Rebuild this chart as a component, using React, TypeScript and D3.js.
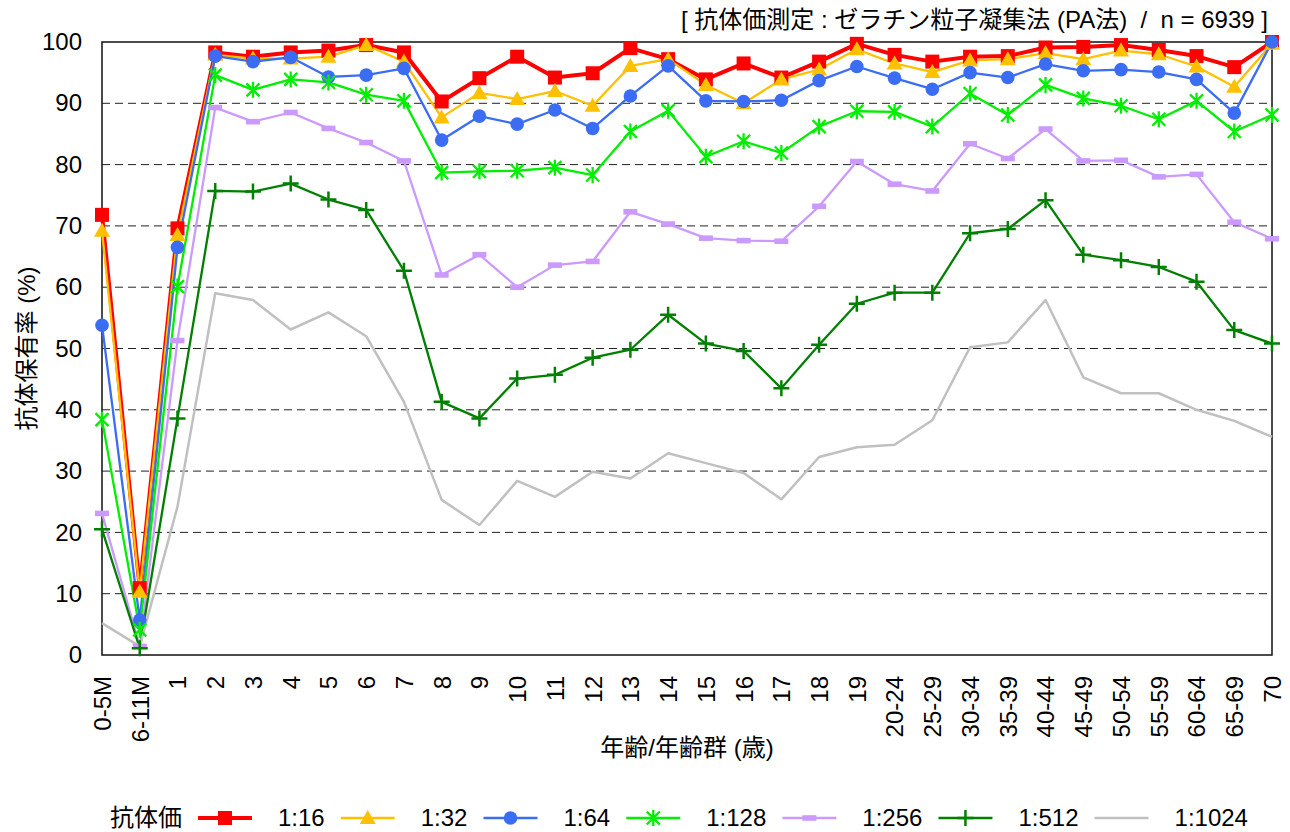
import * as d3 from "d3";
import { useEffect, useRef } from "react";

const ageGroups = [
  "0-5M", "6-11M", "1", "2", "3", "4", "5", "6", "7", "8", "9", "10", "11",
  "12", "13", "14", "15", "16", "17", "18", "19", "20-24", "25-29", "30-34",
  "35-39", "40-44", "45-49", "50-54", "55-59", "60-64", "65-69", "70",
];

const titers = ["1:16", "1:32", "1:64", "1:128", "1:256", "1:512", "1:1024"];

const t16 = [71.8, 10.9, 69.6, 98.3, 97.6, 98.3, 98.6, 99.5, 98.3, 90.3, 94.1, 97.6, 94.2, 94.9, 99.0, 97.2, 93.9, 96.5, 94.2, 96.8, 99.7, 97.9, 96.8, 97.6, 97.7, 99.1, 99.2, 99.5, 98.7, 97.7, 95.9, 100];
const t32 = [69.2, 10.3, 68.5, 97.9, 97.3, 97.3, 97.6, 99.5, 96.8, 87.7, 91.7, 90.7, 92.0, 89.6, 96.1, 97.2, 93.0, 90.0, 93.9, 95.5, 98.8, 96.5, 95.1, 97.0, 97.2, 98.2, 97.2, 98.6, 98.0, 96.0, 92.7, 99.7];
const t64 = [53.8, 5.7, 66.5, 97.7, 96.8, 97.5, 94.3, 94.6, 95.7, 84.0, 87.9, 86.6, 88.9, 85.9, 91.2, 96.1, 90.4, 90.3, 90.5, 93.7, 96.0, 94.1, 92.3, 95.0, 94.2, 96.4, 95.3, 95.5, 95.1, 93.9, 88.4, 100];
const t128 = [38.4, 4.1, 60.1, 94.6, 92.2, 93.9, 93.4, 91.4, 90.4, 78.7, 78.9, 79.0, 79.5, 78.3, 85.4, 88.8, 81.3, 83.8, 81.9, 86.2, 88.7, 88.6, 86.2, 91.6, 88.1, 93.0, 90.8, 89.6, 87.4, 90.4, 85.4, 88.1];
const t256 = [23.1, 1.4, 51.3, 89.3, 87.0, 88.5, 85.9, 83.6, 80.6, 62.0, 65.3, 60.0, 63.6, 64.2, 72.3, 70.3, 68.0, 67.6, 67.5, 73.2, 80.5, 76.8, 75.7, 83.4, 81.0, 85.8, 80.6, 80.7, 78.0, 78.4, 70.6, 67.9];
const t512 = [20.5, 1.1, 38.6, 75.7, 75.6, 76.9, 74.3, 72.6, 62.7, 41.3, 38.6, 45.1, 45.7, 48.5, 49.8, 55.5, 50.8, 49.6, 43.5, 50.6, 57.3, 59.1, 59.1, 68.8, 69.5, 74.2, 65.3, 64.4, 63.3, 60.9, 53.0, 50.8];
const t1024 = [5.2, 1.4, 24.2, 59.0, 57.9, 53.1, 55.9, 52.0, 41.3, 25.3, 21.2, 28.4, 25.8, 29.9, 28.8, 32.9, 31.3, 29.7, 25.4, 32.3, 33.9, 34.3, 38.3, 50.2, 51.0, 57.9, 45.3, 42.7, 42.7, 40.0, 38.2, 35.6];

const yTicks = [0, 10, 20, 30, 40, 50, 60, 70, 80, 90, 100];

const seriesValues = [t16, t32, t64, t128, t256, t512, t1024];
const colors = ["#ff0000", "#ffc000", "#3b6cf4", "#00ee00", "#cc99ff", "#007f00", "#c0c0c0"];
const markers = ["square", "triangle", "circle", "star", "dash", "plus", "none"];
const widths = [4, 2.3, 2.3, 2.3, 2.3, 2.3, 2.5];

const font = "'Liberation Sans', Arial, 'Noto Sans CJK JP', sans-serif";

const Marker = ({ type, x, y, color }) => {
  switch (type) {
    case "square":
      return <rect x={x - 7} y={y - 7} width={14} height={14} fill={color} />;
    case "triangle":
      return <path d={`M${x},${y - 8}L${x + 8},${y + 6}L${x - 8},${y + 6}Z`} fill={color} />;
    case "circle":
      return <circle cx={x} cy={y} r={6.8} fill={color} />;
    case "star":
      return (
        <path
          d={`M${x},${y - 8}V${y + 8}M${x - 6.5},${y - 6.5}L${x + 6.5},${y + 6.5}M${x - 6.5},${y + 6.5}L${x + 6.5},${y - 6.5}`}
          stroke={color}
          strokeWidth={2.3}
        />
      );
    case "dash":
      return <rect x={x - 7} y={y - 2.8} width={14} height={5.6} fill={color} />;
    case "plus":
      return (
        <path d={`M${x},${y - 8}V${y + 8}M${x - 8},${y}H${x + 8}`} stroke={color} strokeWidth={2.5} />
      );
    default:
      return null;
  }
};

const App = () => {
  const width = 1290,
    height = 832,
    marginLeft = 102,
    marginRight = 18,
    marginTop = 42,
    marginBottom = 177;

  const x = d3.scalePoint(ageGroups, [marginLeft, width - marginRight]);
  const y = d3.scaleLinear([0, 100], [height - marginBottom, marginTop]);
  const line = d3.line((d, i) => x(ageGroups[i]), y);

  const gy = useRef();
  const gx = useRef();

  useEffect(() => {
    const g = d3.select(gy.current);
    g.call(d3.axisLeft(y).tickValues(yTicks).tickSize(0).tickPadding(20));
    g.select(".domain").remove();
    g.selectAll("text").attr("font-size", 24).attr("font-family", font).attr("fill", "#000");
  }, [gy, y]);

  useEffect(() => {
    const g = d3.select(gx.current);
    g.call(d3.axisBottom(x).tickSize(0));
    g.select(".domain").remove();
    g.selectAll("text")
      .attr("font-size", 24)
      .attr("font-family", font)
      .attr("fill", "#000")
      .attr("text-anchor", "end")
      .attr("dy", "0.35em")
      .attr("y", 0)
      .attr("transform", "translate(0,21) rotate(-90)")
      .attr("x", 0);
  }, [gx, x]);

  // legend layout: each item is sample + label, spaced by label width
  let lx = 198;
  const legendItems = titers.map((t, i) => {
    const item = { x: lx, label: t, i };
    const textW = (t.length - 1) * 13.35 + 6.7;
    lx = lx + 80 + textW + 16;
    return item;
  });
  const ly = 818;

  return (
    <svg width={width} height={height} style={{ position: "absolute", left: 0, top: 0 }}>
      <rect width={width} height={height} fill="#fff" />
      <g stroke="#222" strokeWidth={1} strokeDasharray="8,5">
        {yTicks.slice(1, -1).map((t) => (
          <line key={t} x1={marginLeft} x2={width - marginRight} y1={y(t)} y2={y(t)} />
        ))}
      </g>
      <rect
        x={marginLeft}
        y={marginTop}
        width={width - marginRight - marginLeft}
        height={height - marginBottom - marginTop}
        fill="none"
        stroke="#111"
        strokeWidth={1.5}
      />
      <g ref={gy} transform={`translate(${marginLeft},0)`} />
      <g ref={gx} transform={`translate(0,${height - marginBottom})`} />

      {/* all lines first, then markers on top */}
      {seriesValues.map((vals, s) => (
        <path
          key={titers[s]}
          d={line(vals)}
          fill="none"
          stroke={colors[s]}
          strokeWidth={widths[s]}
          strokeLinejoin="round"
        />
      ))}
      {seriesValues.map((vals, s) => (
        <g key={titers[s]}>
          {vals.map((v, i) => (
            <Marker key={i} type={markers[s]} x={x(ageGroups[i])} y={y(v)} color={colors[s]} />
          ))}
        </g>
      ))}

      <text x={1268} y={28} textAnchor="end" fontSize={24} fontFamily={font}>
        [ 抗体価測定 : ゼラチン粒子凝集法 (PA法) &#160;/ &#160;n = 6939 ]
      </text>
      <text
        transform={`translate(35,${(marginTop + height - marginBottom) / 2}) rotate(-90)`}
        textAnchor="middle"
        fontSize={24}
        fontFamily={font}
      >
        抗体保有率 (%)
      </text>
      <text x={687} y={756} textAnchor="middle" fontSize={24} fontFamily={font}>
        年齢/年齢群 (歳)
      </text>

      <g fontSize={24} fontFamily={font}>
        <text x={110} y={ly} dy="0.35em">抗体価</text>
        {legendItems.map((it) => (
          <g key={it.label}>
            <line x1={it.x} x2={it.x + 54} y1={ly} y2={ly} stroke={colors[it.i]} strokeWidth={widths[it.i]} />
            <Marker type={markers[it.i]} x={it.x + 27} y={ly} color={colors[it.i]} />
            <text x={it.x + 80} y={ly} dy="0.35em">{it.label}</text>
          </g>
        ))}
      </g>
    </svg>
  );
};

export default App;
